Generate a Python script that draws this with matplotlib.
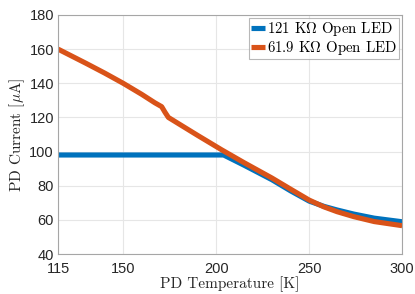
import matplotlib
matplotlib.use('Agg')
import matplotlib.pyplot as plt

# PD temperature [K] and current [uA]
temp_121 = [115, 150, 180, 204, 215, 230, 240, 250, 258, 265, 274, 285, 300]
curr_121 = [98, 98, 98, 98, 92, 83.5, 77, 71, 67.9, 65.8, 63.4, 61, 58.9]

temp_619 = [115, 130, 140, 150, 160, 167, 170.7, 172.5, 174.3, 190, 203, 215, 230, 240,
            250, 258, 265, 274, 285, 300]
curr_619 = [160, 151.7, 146, 140, 133.5, 128.6, 126.3, 123, 120, 109.5, 101, 93.5, 84.5, 78,
            71.6, 67.6, 64.8, 61.9, 59, 56.6]

x_ticks = [115, 150, 200, 250, 300]
y_ticks = [40, 60, 80, 100, 120, 140, 160, 180]

plt.rcParams['mathtext.fontset'] = 'cm'
serif = 'cmr10'

fig = plt.figure(figsize=(4.15, 2.94), dpi=100)
ax = fig.add_axes([0.14, 0.136, 0.829, 0.813])

ax.plot(temp_121, curr_121, color='#0072BD', lw=3.7, label=r'121 K$\Omega$ Open LED',
        solid_capstyle='butt', solid_joinstyle='round')
ax.plot(temp_619, curr_619, color='#D95319', lw=3.7, label=r'61.9 K$\Omega$ Open LED',
        solid_capstyle='butt', solid_joinstyle='round')

ax.set_xlim(115, 300)
ax.set_ylim(40, 180)
ax.set_xticks(x_ticks)
ax.set_yticks(y_ticks)
ax.tick_params(direction='in', length=0, labelsize=10.5, colors='#262626')
ax.tick_params(axis='x', pad=6)
ax.tick_params(axis='y', pad=3)
for lab in ax.get_xticklabels() + ax.get_yticklabels():
    lab.set_family('Liberation Sans')
ax.grid(True, color='#e6e6e6', lw=0.8)
ax.set_axisbelow(True)
for s in ax.spines.values():
    s.set_color('#a6a6a6')
    s.set_linewidth(0.8)

ax.set_xlabel('PD Temperature [K]', family=serif, fontsize=11, color='#262626', labelpad=0)
ax.set_ylabel(r'PD Current [$\mu$A]', family=serif, fontsize=11, color='#262626', labelpad=2)

leg = ax.legend(loc='upper right', handlelength=0.9, handletextpad=0.15, borderpad=0.15,
                labelspacing=0.05, fancybox=False, borderaxespad=0.2,
                prop={'family': serif, 'size': 10.7})
leg.get_frame().set_edgecolor('#a6a6a6')
leg.get_frame().set_linewidth(0.8)

fig.savefig('out.png', dpi=100)
